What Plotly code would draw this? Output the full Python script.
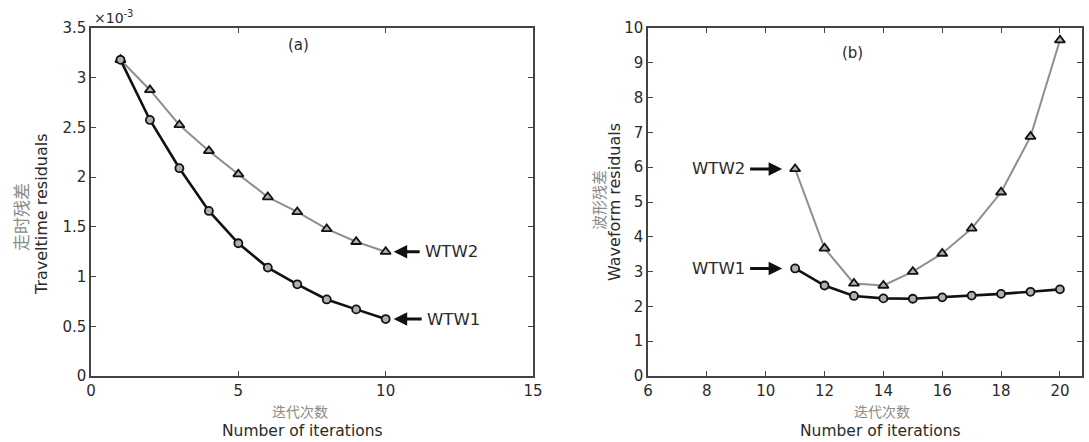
import plotly.graph_objects as go

W, H = 1089, 442

# ---- data (panel a values in units of 1e-3) ----
iters_a = [1, 2, 3, 4, 5, 6, 7, 8, 9, 10]
wtw1_a = [3.18, 2.575, 2.09, 1.66, 1.335, 1.09, 0.922, 0.77, 0.67, 0.573]
wtw2_a = [3.18, 2.877, 2.525, 2.264, 2.03, 1.80, 1.65, 1.479, 1.35, 1.25]

iters_b = [11, 12, 13, 14, 15, 16, 17, 18, 19, 20]
wtw1_b = [3.09, 2.60, 2.30, 2.23, 2.22, 2.26, 2.31, 2.36, 2.42, 2.49]
wtw2_b = [5.95, 3.67, 2.66, 2.60, 3.00, 3.52, 4.24, 5.28, 6.88, 9.65]

xticks_a = [0, 5, 10, 15]
yticks_a = [0, 0.5, 1, 1.5, 2, 2.5, 3, 3.5]
xticks_b = [6, 8, 10, 12, 14, 16, 18, 20]
yticks_b = [0, 1, 2, 3, 4, 5, 6, 7, 8, 9, 10]

FONT = "DejaVu Sans"
CJK = "Noto Sans CJK SC"
DARK = "#2a2a2a"
GREY_LINE = "#8f8f8f"
CJK_COL = "#8a8a8a"


def px(xp):
    return xp / W


def py(yp):
    return 1 - yp / H


fig = go.Figure()

circle = dict(symbol="circle", size=8, color="#b0b0b0", line=dict(color="#111", width=1.8))
tri = dict(symbol="triangle-up", size=9, color="#b0b0b0", line=dict(color="#111", width=1.8))

fig.add_trace(go.Scatter(x=iters_a, y=wtw2_a, mode="lines+markers", xaxis="x", yaxis="y",
                         line=dict(color=GREY_LINE, width=2), marker=tri, showlegend=False))
fig.add_trace(go.Scatter(x=iters_a, y=wtw1_a, mode="lines+markers", xaxis="x", yaxis="y",
                         line=dict(color="#111", width=2.6), marker=circle, showlegend=False))
fig.add_trace(go.Scatter(x=iters_b, y=wtw2_b, mode="lines+markers", xaxis="x2", yaxis="y2",
                         line=dict(color=GREY_LINE, width=2), marker=tri, showlegend=False))
fig.add_trace(go.Scatter(x=iters_b, y=wtw1_b, mode="lines+markers", xaxis="x2", yaxis="y2",
                         line=dict(color="#111", width=2.6), marker=circle, showlegend=False))

axis_common = dict(showline=True, linecolor="#444", linewidth=1.5, mirror="ticks",
                   ticks="inside", ticklen=5, tickcolor="#444", tickwidth=1.2,
                   showgrid=False, zeroline=False, automargin=False,
                   tickfont=dict(family=FONT, size=15, color=DARK))

ydom = [py(376), py(28)]
fig.update_layout(
    template="none",
    width=W, height=H,
    margin=dict(l=0, r=0, t=0, b=0, autoexpand=False),
    paper_bgcolor="white", plot_bgcolor="white",
    xaxis=dict(domain=[px(91), px(533)], range=[0, 15], tickvals=xticks_a,
               anchor="y", **axis_common),
    yaxis=dict(domain=ydom, range=[0, 3.5], tickvals=yticks_a,
               anchor="x", **axis_common),
    xaxis2=dict(domain=[px(648), px(1082)], range=[6, 20.75], tickvals=xticks_b,
                anchor="y2", **axis_common),
    yaxis2=dict(domain=ydom, range=[0, 10], tickvals=yticks_b,
                anchor="x2", **axis_common),
)

ann = []


def txt(x, y, text, size=15, color=DARK, family=FONT, angle=0, xanchor="center"):
    ann.append(dict(x=px(x), y=py(y), xref="paper", yref="paper", text=text, showarrow=False,
                    font=dict(family=family, size=size, color=color), textangle=angle,
                    xanchor=xanchor, yanchor="middle"))


# axis titles
txt(20, 217, "走时残差", size=17, color=CJK_COL, family=CJK, angle=-90)
txt(41, 214, "Traveltime residuals", size=16, angle=-90)
txt(599, 200, "波形残差", size=15, color=CJK_COL, family=CJK, angle=-90)
txt(615, 202, "Waveform residuals", size=16, angle=-90)
txt(300, 411, "迭代次数", size=14, color=CJK_COL, family=CJK)
txt(302, 431, "Number of iterations", size=15.5)
txt(882, 411, "迭代次数", size=14, color=CJK_COL, family=CJK)
txt(880, 431, "Number of iterations", size=15.5)

# panel labels and exponent
txt(298, 45, "(a)", size=15)
txt(852, 53, "(b)", size=15)
txt(92, 17, "×10<sup>-3</sup>", size=14, xanchor="left")

fig.update_layout(annotations=ann)

# WTW labels with arrows pointing at the series end points
lab = dict(showarrow=True, arrowhead=2, arrowsize=0.9, arrowwidth=3, arrowcolor="#111",
           font=dict(family=FONT, size=16.5, color=DARK), ay=0, borderpad=5)
fig.add_annotation(x=iters_a[-1], y=wtw2_a[-1], xref="x", yref="y", text="WTW2",
                   ax=66, standoff=8, **lab)
fig.add_annotation(x=iters_a[-1], y=wtw1_a[-1], xref="x", yref="y", text="WTW1",
                   ax=68, standoff=8, **lab)
fig.add_annotation(x=iters_b[0], y=wtw2_b[0], xref="x2", yref="y2", text="WTW2",
                   ax=-77, standoff=13, **lab)
fig.add_annotation(x=iters_b[0], y=wtw1_b[0], xref="x2", yref="y2", text="WTW1",
                   ax=-77, standoff=13, **lab)

fig.write_html("out.html", config={"displayModeBar": False},
               post_script="document.body.style.margin='0';")
